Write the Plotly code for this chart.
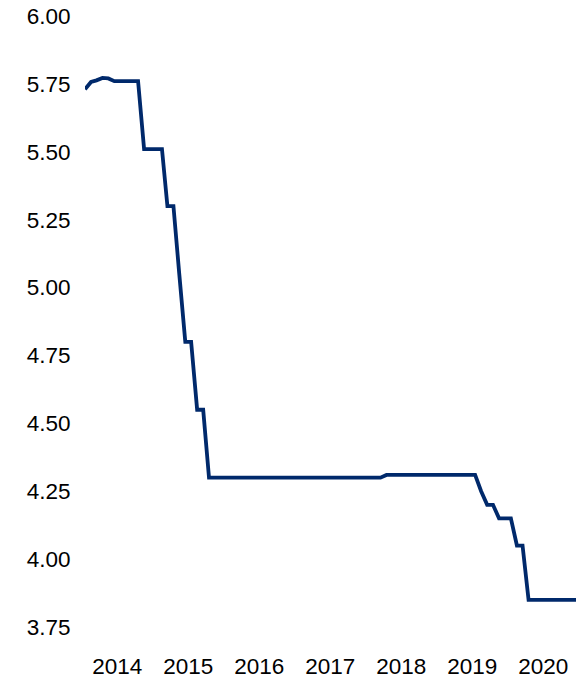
import plotly.graph_objects as go
import pandas as pd

# Monthly observations, Jan 2014 - Dec 2020
dates = pd.date_range("2014-01-01", "2020-12-01", freq="MS").strftime("%Y-%m-%d").tolist()

rates = [
    # 2014
    5.73, 5.757, 5.763, 5.772, 5.77, 5.76, 5.76, 5.76, 5.76, 5.76, 5.51, 5.51,
    # 2015
    5.51, 5.51, 5.30, 5.30, 5.05, 4.80, 4.80, 4.55, 4.55, 4.30, 4.30, 4.30,
    # 2016
    4.30, 4.30, 4.30, 4.30, 4.30, 4.30, 4.30, 4.30, 4.30, 4.30, 4.30, 4.30,
    # 2017
    4.30, 4.30, 4.30, 4.30, 4.30, 4.30, 4.30, 4.30, 4.30, 4.30, 4.30, 4.30,
    # 2018
    4.30, 4.30, 4.30, 4.31, 4.31, 4.31, 4.31, 4.31, 4.31, 4.31, 4.31, 4.31,
    # 2019
    4.31, 4.31, 4.31, 4.31, 4.31, 4.31, 4.31, 4.25, 4.20, 4.20, 4.15, 4.15,
    # 2020
    4.15, 4.05, 4.05, 3.85, 3.85, 3.85, 3.85, 3.85, 3.85, 3.85, 3.85, 3.85,
]

year_labels = ["2014", "2015", "2016", "2017", "2018", "2019", "2020"]
year_tick_positions = [f"{y}-06-16" for y in year_labels]
y_ticks = [3.75, 4.00, 4.25, 4.50, 4.75, 5.00, 5.25, 5.50, 5.75, 6.00]

fig = go.Figure()
fig.add_trace(go.Scatter(
    x=dates, y=rates, mode="lines",
    line=dict(color="#00296B", width=3.8),
    showlegend=False,
))

font = dict(family="Liberation Sans, Arial, sans-serif", size=22.5, color="#000000")

fig.update_layout(
    width=586, height=679,
    margin=dict(l=77, r=18, t=8, b=60),
    paper_bgcolor="white", plot_bgcolor="white",
    font=font,
    xaxis=dict(
        type="date",
        range=[dates[0], dates[-1]],
        tickmode="array",
        tickvals=year_tick_positions,
        ticktext=year_labels,
        showgrid=False, zeroline=False, showline=False,
        ticks="outside", ticklen=19, tickcolor="rgba(0,0,0,0)",
        tickfont=font, automargin=False, ticklabeloverflow="allow",
    ),
    yaxis=dict(
        range=[3.75, 6.00],
        tickmode="array",
        tickvals=y_ticks,
        ticktext=[f"{v:.2f}" for v in y_ticks],
        showgrid=False, zeroline=False, showline=False,
        ticks="outside", ticklen=9, tickcolor="rgba(0,0,0,0)",
        tickfont=font, automargin=False, ticklabeloverflow="allow",
    ),
)

fig.write_html("out.html")
